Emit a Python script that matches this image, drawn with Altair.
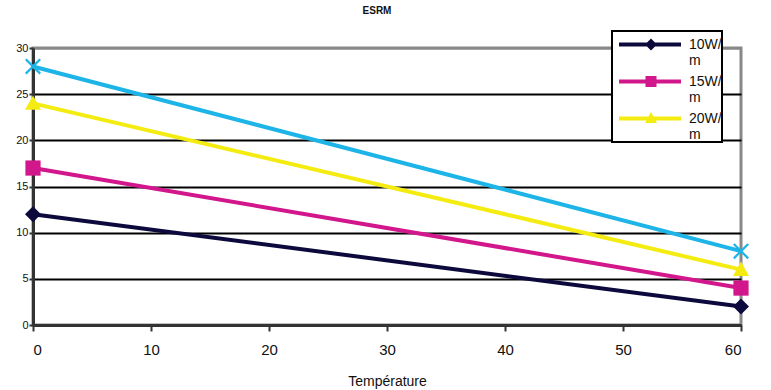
import altair as alt
import pandas as pd

# ---- data ----
series = ["10W/m", "15W/m", "20W/m", "25W/m"]
temps = [0, 60]
v10 = [12, 2]
v15 = [17, 4]
v20 = [24, 6]
v25 = [28, 8]
legend_series = ["10W/m", "15W/m", "20W/m"]
colors = ["#0c0a3c", "#d2168c", "#f4ec10", "#1db4e8"]
x_ticks = [0, 10, 20, 30, 40, 50, 60]
y_ticks = [0, 5, 10, 15, 20, 25, 30]

FONT = "Liberation Sans, Arial, sans-serif"

rows = []
for s, vals in zip(series, [v10, v15, v20, v25]):
    for t, v in zip(temps, vals):
        rows.append({"series": s, "temp": t, "value": v})
df = pd.DataFrame(rows)
df_leg = df[df["series"].isin(legend_series)].rename(columns={"series": "lg"})

# marker shapes (custom symbol paths in [-1,1] space)
diamond = "M0,-1L1,0L0,1L-1,0Z"
square = "M-0.95,-0.95H0.95V0.95H-0.95Z"
triangle = "M0,-1L1,0.8H-1Z"
xshape = ("M-1,-0.8L-0.8,-1L0,-0.2L0.8,-1L1,-0.8L0.2,0L1,0.8L0.8,1"
          "L0,0.2L-0.8,1L-1,0.8L-0.2,0Z")
markers = [diamond, square, triangle, xshape]

# legend symbols: line segment + marker (drawn slightly low so the
# first label line sits level with it)
bar = "M-6.4,0.9H6V1.7H-6.4Z"
leg_paths = [
    bar + "M0,0.1L1.2,1.3L0,2.5L-1.2,1.3Z",
    bar + "M-1.1,0.2H1.1V2.4H-1.1Z",
    bar + "M0,0L1.2,2.2H-1.2Z",
]

x_enc = alt.X("temp:Q",
              scale=alt.Scale(domain=[0, 60], nice=False, zero=False),
              axis=alt.Axis(values=x_ticks, title="Température", grid=False,
                            domainColor="#333333", domainWidth=3,
                            tickColor="#333333", tickWidth=2, tickSize=6,
                            labelFontSize=15, labelPadding=11,
                            labelColor="#111111",
                            titleFontSize=14, titleFontWeight="normal",
                            titlePadding=17, titleColor="#111111"))
y_enc = alt.Y("value:Q",
              scale=alt.Scale(domain=[0, 30], nice=False),
              axis=alt.Axis(values=y_ticks, title=None,
                            domainColor="#333333", domainWidth=3,
                            tickColor="#333333", tickWidth=2, tickSize=4,
                            labelFontSize=11, labelPadding=1,
                            labelColor="#111111",
                            gridColor={"condition": {"test": "datum.value == 30",
                                                     "value": "#888888"},
                                       "value": "#000000"},
                            gridWidth=2))

base = alt.Chart(df)
color_main = alt.Color("series:N", scale=alt.Scale(domain=series, range=colors),
                       legend=None)
lines = base.mark_line(strokeWidth=4).encode(x=x_enc, y=y_enc, color=color_main,
                                             detail="series:N")
points = base.mark_point(filled=True, size=256, opacity=1).encode(
    x=x_enc, y=y_enc, color=color_main,
    shape=alt.Shape("series:N", scale=alt.Scale(domain=series, range=markers),
                    legend=None))

legend = alt.Legend(title=None, orient="none", legendX=579, legendY=-17,
                    labelExpr="[substring(datum.label, 0, 4), substring(datum.label, 4)]",
                    labelFontSize=14, labelFont=FONT, labelColor="#111111",
                    labelLimit=200, labelOffset=31, labelBaseline="top",
                    symbolSize=100, symbolOffset=32, symbolOpacity=1,
                    symbolStrokeWidth=0,
                    fillColor="white", strokeColor="#000000", padding=0,
                    rowPadding=0)
hidden = alt.Chart(df_leg).mark_point(filled=True, opacity=0).encode(
    x=x_enc, y=y_enc,
    color=alt.Color("lg:N", scale=alt.Scale(domain=legend_series, range=colors[:3]),
                    legend=legend),
    shape=alt.Shape("lg:N", scale=alt.Scale(domain=legend_series, range=leg_paths),
                    legend=legend))

chart = alt.layer(alt.layer(lines, points), hidden).resolve_scale(
    color="independent", shape="independent"
).properties(
    width=708, height=277,
    title=alt.Title("ESRM", fontSize=10, fontWeight="bold", font=FONT,
                    frame="group", offset=14, dx=-10, color="#111111"),
    autosize=alt.AutoSizeParams(type="none"),
    padding={"left": 33, "top": 48, "right": 30, "bottom": 65},
    background="white",
).configure_view(
    stroke="#888888", strokeWidth=3
).configure_axis(
    labelFont=FONT, titleFont=FONT
).configure_legend(
    strokeWidth=2
)

chart.save("out.html", embed_options={"renderer": "svg", "actions": False})
